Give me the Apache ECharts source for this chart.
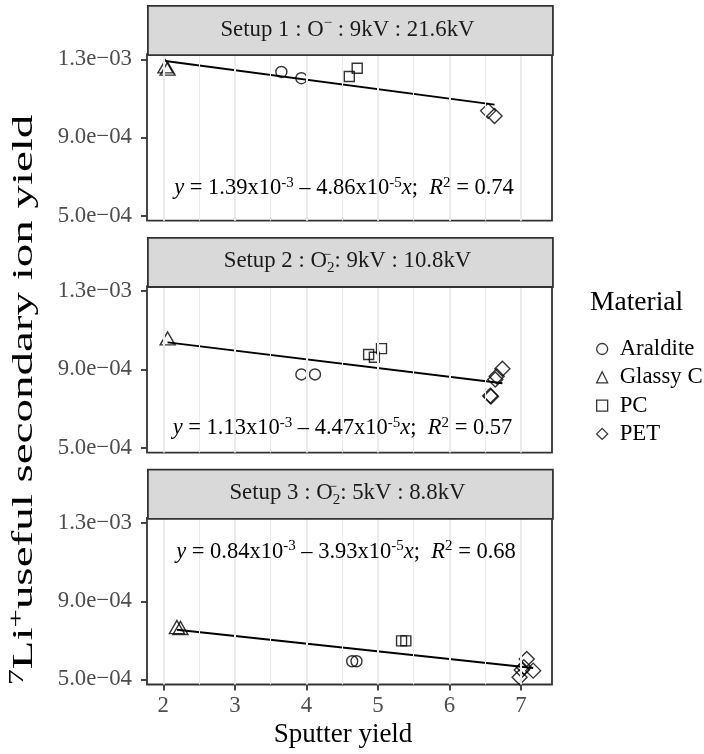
<!DOCTYPE html>
<html>
<head>
<meta charset="utf-8">
<script src="https://cdn.jsdelivr.net/npm/echarts@6/dist/echarts.min.js"></script>
<style>
  html, body { margin: 0; padding: 0; background: #fff; }
  #chart { width: 704px; height: 754px; }
</style>
</head>
<body>
<div id="chart"></div>
<script>
// legend order and marker shapes
var materials = ["Araldite", "Glassy C", "PC", "PET"];
var symbols = ["circle", "triangle", "rect", "diamond"];
var symbolSizes = [11, [15, 13], 10, 15];

// Setup 1 : O- : 9kV : 21.6kV   [sputter yield, useful yield]
var setup1Araldite = [[3.65, 1.235e-3], [3.93, 1.203e-3]];
var setup1Glassy = [[2.03, 1.264e-3], [2.06, 1.252e-3]];
var setup1PC = [[4.60, 1.212e-3], [4.71, 1.254e-3]];
var setup1PET = [[6.54, 1.036e-3], [6.63, 1.010e-3]];
var setup1Fit = [[2.03, 1.291e-3], [6.63, 1.068e-3]];

// Setup 2 : O2- : 9kV : 10.8kV
var setup2Araldite = [[3.93, 0.874e-3], [4.12, 0.874e-3]];
var setup2Glassy = [[2.06, 1.058e-3]];
var setup2PC = [[4.87, 0.976e-3], [4.95, 0.962e-3], [5.05, 1.006e-3]];
var setup2PET = [[6.74, 0.903e-3], [6.66, 0.865e-3], [6.64, 0.848e-3], [6.57, 0.765e-3], [6.58, 0.761e-3]];
var setup2Fit = [[2.06, 1.038e-3], [6.74, 0.829e-3]];

// Setup 3 : O2- : 5kV : 8.8kV
var setup3Araldite = [[4.64, 0.593e-3], [4.70, 0.593e-3]];
var setup3Glassy = [[2.19, 0.768e-3], [2.24, 0.763e-3]];
var setup3PC = [[5.33, 0.697e-3], [5.39, 0.697e-3]];
var setup3PET = [[7.08, 0.604e-3], [7.17, 0.545e-3], [7.01, 0.548e-3], [6.98, 0.511e-3], [7.04, 0.562e-3]];
var setup3Fit = [[2.19, 0.754e-3], [7.17, 0.558e-3]];

var xTicks = [2, 3, 4, 5, 6, 7];
var xMinor = [2.5, 3.5, 4.5, 5.5, 6.5];
var yTicks = [5e-4, 9e-4, 1.3e-3];
var yTickLabels = ["5.0e\u221204", "9.0e\u221204", "1.3e\u221203"];
var yMinor = [7e-4, 1.1e-3];

var panels = [
  { points: [setup1Araldite, setup1Glassy, setup1PC, setup1PET], fit: setup1Fit,
    strip: "{n|Setup 1 : O}{sp|\u2212}{n| : 9kV : 21.6kV}",
    eq: ["1.39", "3", "4.86", "5", "0.74"] },
  { points: [setup2Araldite, setup2Glassy, setup2PC, setup2PET], fit: setup2Fit,
    strip: "{n|Setup 2 : O}{spz|\u2212}{sb|2}{n|: 9kV : 10.8kV}",
    eq: ["1.13", "3", "4.47", "5", "0.57"] },
  { points: [setup3Araldite, setup3Glassy, setup3PC, setup3PET], fit: setup3Fit,
    strip: "{n|Setup 3 : O}{spz|\u2212}{sb|2}{n|: 5kV : 8.8kV}",
    eq: ["0.84", "3", "3.93", "5", "0.68"] }
];

var FONT = "Liberation Serif";
var panelLeft = 147, panelWidth = 405;
var stripH = 49.2, panelH = 166.5, gapH = 16.2, firstTop = 5;
var eqPos = [[344, 188.5], [342.5, 428.5], [346, 552]];

var chart = echarts.init(document.getElementById("chart"));

var grids = [], xAxes = [], yAxes = [], series = [], graphics = [];

panels.forEach(function (p, i) {
  var stripTop = firstTop + i * (stripH + panelH + gapH);
  var top = stripTop + stripH;
  var last = i === panels.length - 1;

  grids.push({
    left: panelLeft, top: top, width: panelWidth, height: panelH,
    show: true, borderColor: "#333333", borderWidth: 1.8, backgroundColor: "transparent"
  });
  xAxes.push({
    type: "value", gridIndex: i, min: 1.772, max: 7.433,
    axisLine: { show: false },
    splitLine: { show: false },
    axisTick: { show: last, customValues: xTicks, length: 6, lineStyle: { color: "#333333", width: 1.8 } },
    axisLabel: {
      show: last, customValues: xTicks, margin: 10,
      fontFamily: FONT, fontSize: 22.8, color: "#4D4D4D"
    }
  });
  yAxes.push({
    type: "value", gridIndex: i, min: 0.474e-3, max: 1.326e-3,
    axisLine: { show: false },
    splitLine: { show: false },
    axisTick: { show: true, customValues: yTicks, length: 6, lineStyle: { color: "#333333", width: 1.8 } },
    axisLabel: {
      customValues: yTicks, margin: 15,
      fontFamily: FONT, fontSize: 22.8, color: "#4D4D4D",
      formatter: function (v) {
        for (var k = 0; k < yTicks.length; k++) {
          if (Math.abs(v - yTicks[k]) < 1e-9) return yTickLabels[k];
        }
        return "";
      }
    }
  });

  // background grid lines
  var gl = [];
  xTicks.forEach(function (v) { gl.push({ xAxis: v, lineStyle: { width: 2 } }); });
  xMinor.forEach(function (v) { gl.push({ xAxis: v, lineStyle: { width: 1 } }); });
  yTicks.forEach(function (v) { gl.push({ yAxis: v, lineStyle: { width: 2 } }); });
  yMinor.forEach(function (v) { gl.push({ yAxis: v, lineStyle: { width: 1 } }); });
  series.push({
    type: "line", xAxisIndex: i, yAxisIndex: i, data: [], z: 1, silent: true,
    markLine: {
      silent: true, symbol: ["none", "none"], animation: false,
      label: { show: false },
      lineStyle: { color: "#EBEBEB", type: "solid" },
      emphasis: { disabled: true },
      data: gl
    }
  });

  p.points.forEach(function (pts, m) {
    series.push({
      name: materials[m], type: "scatter", xAxisIndex: i, yAxisIndex: i,
      symbol: symbols[m], symbolSize: symbolSizes[m], z: 3,
      itemStyle: { color: "transparent", borderColor: "#000", borderWidth: 1.4 },
      emphasis: { disabled: true },
      data: pts
    });
  });

  series.push({
    type: "line", xAxisIndex: i, yAxisIndex: i, data: p.fit, z: 4,
    symbol: "none", silent: true,
    lineStyle: { color: "#000", width: 2 }
  });

  // facet strip
  graphics.push({
    type: "rect", left: panelLeft, top: stripTop, z: 10,
    shape: { width: panelWidth, height: stripH },
    style: { fill: "#D9D9D9", stroke: "#333333", lineWidth: 1.8 }
  });
  graphics.push({
    type: "text", x: panelLeft + panelWidth / 2 - 2, y: stripTop + stripH / 2, z: 11,
    style: {
      text: p.strip, align: "center", verticalAlign: "middle",
      rich: {
        n: { fontFamily: FONT, fontSize: 22.8, fill: "#1A1A1A", lineHeight: 28 },
        sp: { fontFamily: FONT, fontSize: 15, fill: "#1A1A1A", lineHeight: 12, verticalAlign: "top" },
        spz: { fontFamily: FONT, fontSize: 15, fill: "#1A1A1A", lineHeight: 12, verticalAlign: "top", width: 0.01 },
        sb: { fontFamily: FONT, fontSize: 15, fill: "#1A1A1A", lineHeight: 12, verticalAlign: "bottom" }
      }
    }
  });

  // regression equation
  var e = p.eq;
  graphics.push({
    type: "text", x: eqPos[i][0], y: eqPos[i][1], z: 12,
    style: {
      text: "{i|y}{n| = " + e[0] + "x10}{s|-" + e[1] + "}{n| \u2013 " + e[2] + "x10}{s|-" + e[3] +
            "}{i|x}{n|;  }{i|R}{s|2}{n| = " + e[4] + "}",
      align: "center", verticalAlign: "middle",
      rich: {
        n: { fontFamily: FONT, fontSize: 22.5, fill: "#000", lineHeight: 26 },
        i: { fontFamily: FONT, fontSize: 22.5, fontStyle: "italic", fill: "#000", lineHeight: 26 },
        s: { fontFamily: FONT, fontSize: 15, fill: "#000", lineHeight: 12, verticalAlign: "top" }
      }
    }
  });
});

// axis titles and legend title
graphics.push({
  type: "text", x: 343, y: 735, z: 12,
  style: { text: "Sputter yield", fontFamily: FONT, fontSize: 27, fill: "#000", align: "center", verticalAlign: "middle" }
});
graphics.push({
  type: "text", x: 24, y: 400, rotation: Math.PI / 2, scaleX: 1.62, z: 12,
  style: {
    text: "{s|7}{n|Li}{s|+}{n|useful secondary ion yield}",
    align: "center", verticalAlign: "middle",
    rich: {
      n: { fontFamily: FONT, fontSize: 29, fill: "#000", lineHeight: 32 },
      s: { fontFamily: FONT, fontSize: 20, fill: "#000", lineHeight: 16, verticalAlign: "top" }
    }
  }
});
graphics.push({
  type: "text", x: 590, y: 303, z: 12,
  style: { text: "Material", fontFamily: FONT, fontSize: 27.5, fill: "#000", align: "left", verticalAlign: "middle" }
});

chart.setOption({
  animation: false,
  backgroundColor: "#fff",
  grid: grids,
  xAxis: xAxes,
  yAxis: yAxes,
  legend: {
    data: materials, orient: "vertical", left: 591, top: 332,
    itemWidth: 11, itemHeight: 11, itemGap: 4.3,
    itemStyle: { color: "transparent", borderColor: "#000", borderWidth: 1.3 },
    textStyle: { fontFamily: FONT, fontSize: 22.8, color: "#000", lineHeight: 24, padding: [0, 0, 0, 7] },
    selectedMode: false
  },
  series: series,
  graphic: graphics
});
</script>
</body>
</html>
